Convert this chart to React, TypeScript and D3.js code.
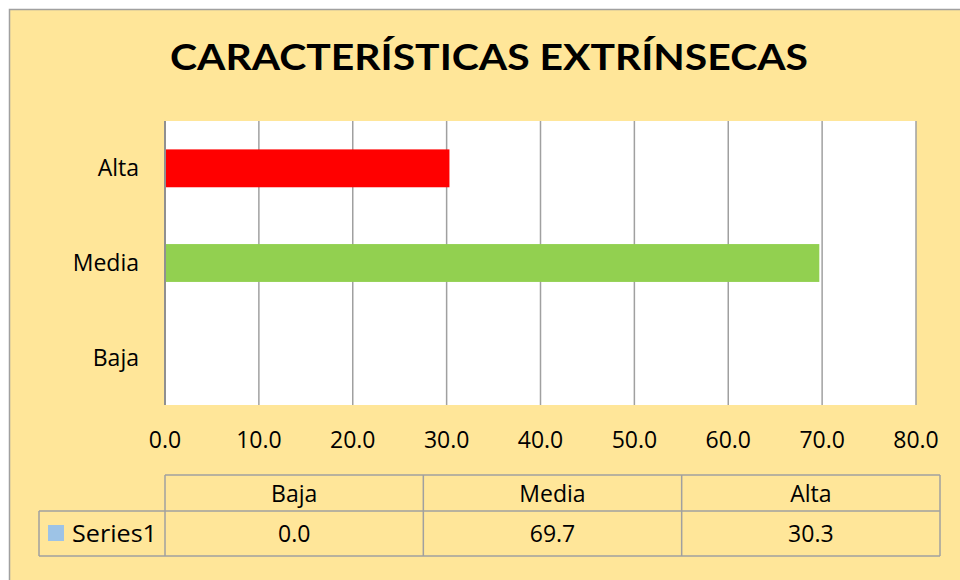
import React from "react";
import * as d3 from "d3";

const categories = ["Baja", "Media", "Alta"];
const values = [0.0, 69.7, 30.3];
const barColors = ["#4472C4", "#92D050", "#FF0000"];
const xTicks = [0, 10, 20, 30, 40, 50, 60, 70, 80];
const seriesName = "Series1";
const title = "CARACTERÍSTICAS EXTRÍNSECAS";

export default function App() {
  const W = 960, H = 580;
  const left = 165, right = 916, top = 121, bottom = 405;
  const x = d3.scaleLinear().domain([0, 80]).range([left, right]);
  const y = d3.scaleBand().domain([...categories].reverse()).range([top, bottom]).paddingInner(0.6).paddingOuter(0.3);
  const font = "'Open Sans', Lato, sans-serif";
  const fs = 23;
  const tblLeft = 165, tblRight = 940, tblTop = 475, tblMid = 511, tblBottom = 556, legLeft = 39;
  const colW = (tblRight - tblLeft) / categories.length;
  const grid = "#A0A0A0";
  return (
    <svg width={W} height={H} style={{ position: "absolute", left: 0, top: 0 }}>
      <rect x={9.5} y={9.5} width={W} height={H} fill="#FFE699" stroke="#A0A0A0" strokeWidth={1.5} />
      <text x={489} y={70} textAnchor="middle" fontFamily="Lato, 'Open Sans', sans-serif" fontWeight="bold" fontSize={36} fill="#000" textLength={638} lengthAdjust="spacingAndGlyphs">{title}</text>
      <rect x={left} y={top} width={right - left} height={bottom - top} fill="#fff" />
      {xTicks.map(t => (
        <line key={t} x1={x(t)} x2={x(t)} y1={top} y2={bottom} stroke={grid} strokeWidth={1.5} />
      ))}
      {categories.map((c, i) => (
        <rect key={c} x={x(0)} y={y(c)!} width={x(values[i]) - x(0)} height={y.bandwidth()} fill={barColors[i]} />
      ))}
      <line x1={left} x2={left} y1={top} y2={bottom} stroke="#909090" strokeWidth={2} />
      {xTicks.map(t => (
        <text key={t} x={x(t)} y={448} textAnchor="middle" fontFamily={font} fontSize={fs} fill="#000">{t.toFixed(1)}</text>
      ))}
      {categories.map(c => (
        <text key={c} x={139} y={y(c)! + y.bandwidth() / 2 + 8} textAnchor="end" fontFamily={font} fontSize={fs} fill="#000">{c}</text>
      ))}
      {/* data table */}
      <g stroke={grid} strokeWidth={1.5} fill="none">
        <line x1={tblLeft} x2={tblRight} y1={tblTop} y2={tblTop} />
        <line x1={legLeft} x2={tblRight} y1={tblMid} y2={tblMid} />
        <line x1={legLeft} x2={tblRight} y1={tblBottom} y2={tblBottom} />
        <line x1={legLeft} x2={legLeft} y1={tblMid} y2={tblBottom} />
        {d3.range(categories.length + 1).map(i => (
          <line key={i} x1={tblLeft + i * colW} x2={tblLeft + i * colW} y1={tblTop} y2={tblBottom} />
        ))}
      </g>
      {categories.map((c, i) => (
        <g key={c}>
          <text x={tblLeft + (i + 0.5) * colW} y={502} textAnchor="middle" fontFamily={font} fontSize={fs} fill="#000">{c}</text>
          <text x={tblLeft + (i + 0.5) * colW} y={542} textAnchor="middle" fontFamily={font} fontSize={fs} fill="#000">{values[i].toFixed(1)}</text>
        </g>
      ))}
      <rect x={48} y={525} width={16} height={16} fill="#9DC3E6" />
      <text x={72} y={542} fontFamily={font} fontSize={fs} fill="#000" textLength={85} lengthAdjust="spacingAndGlyphs">{seriesName}</text>
    </svg>
  );
}
